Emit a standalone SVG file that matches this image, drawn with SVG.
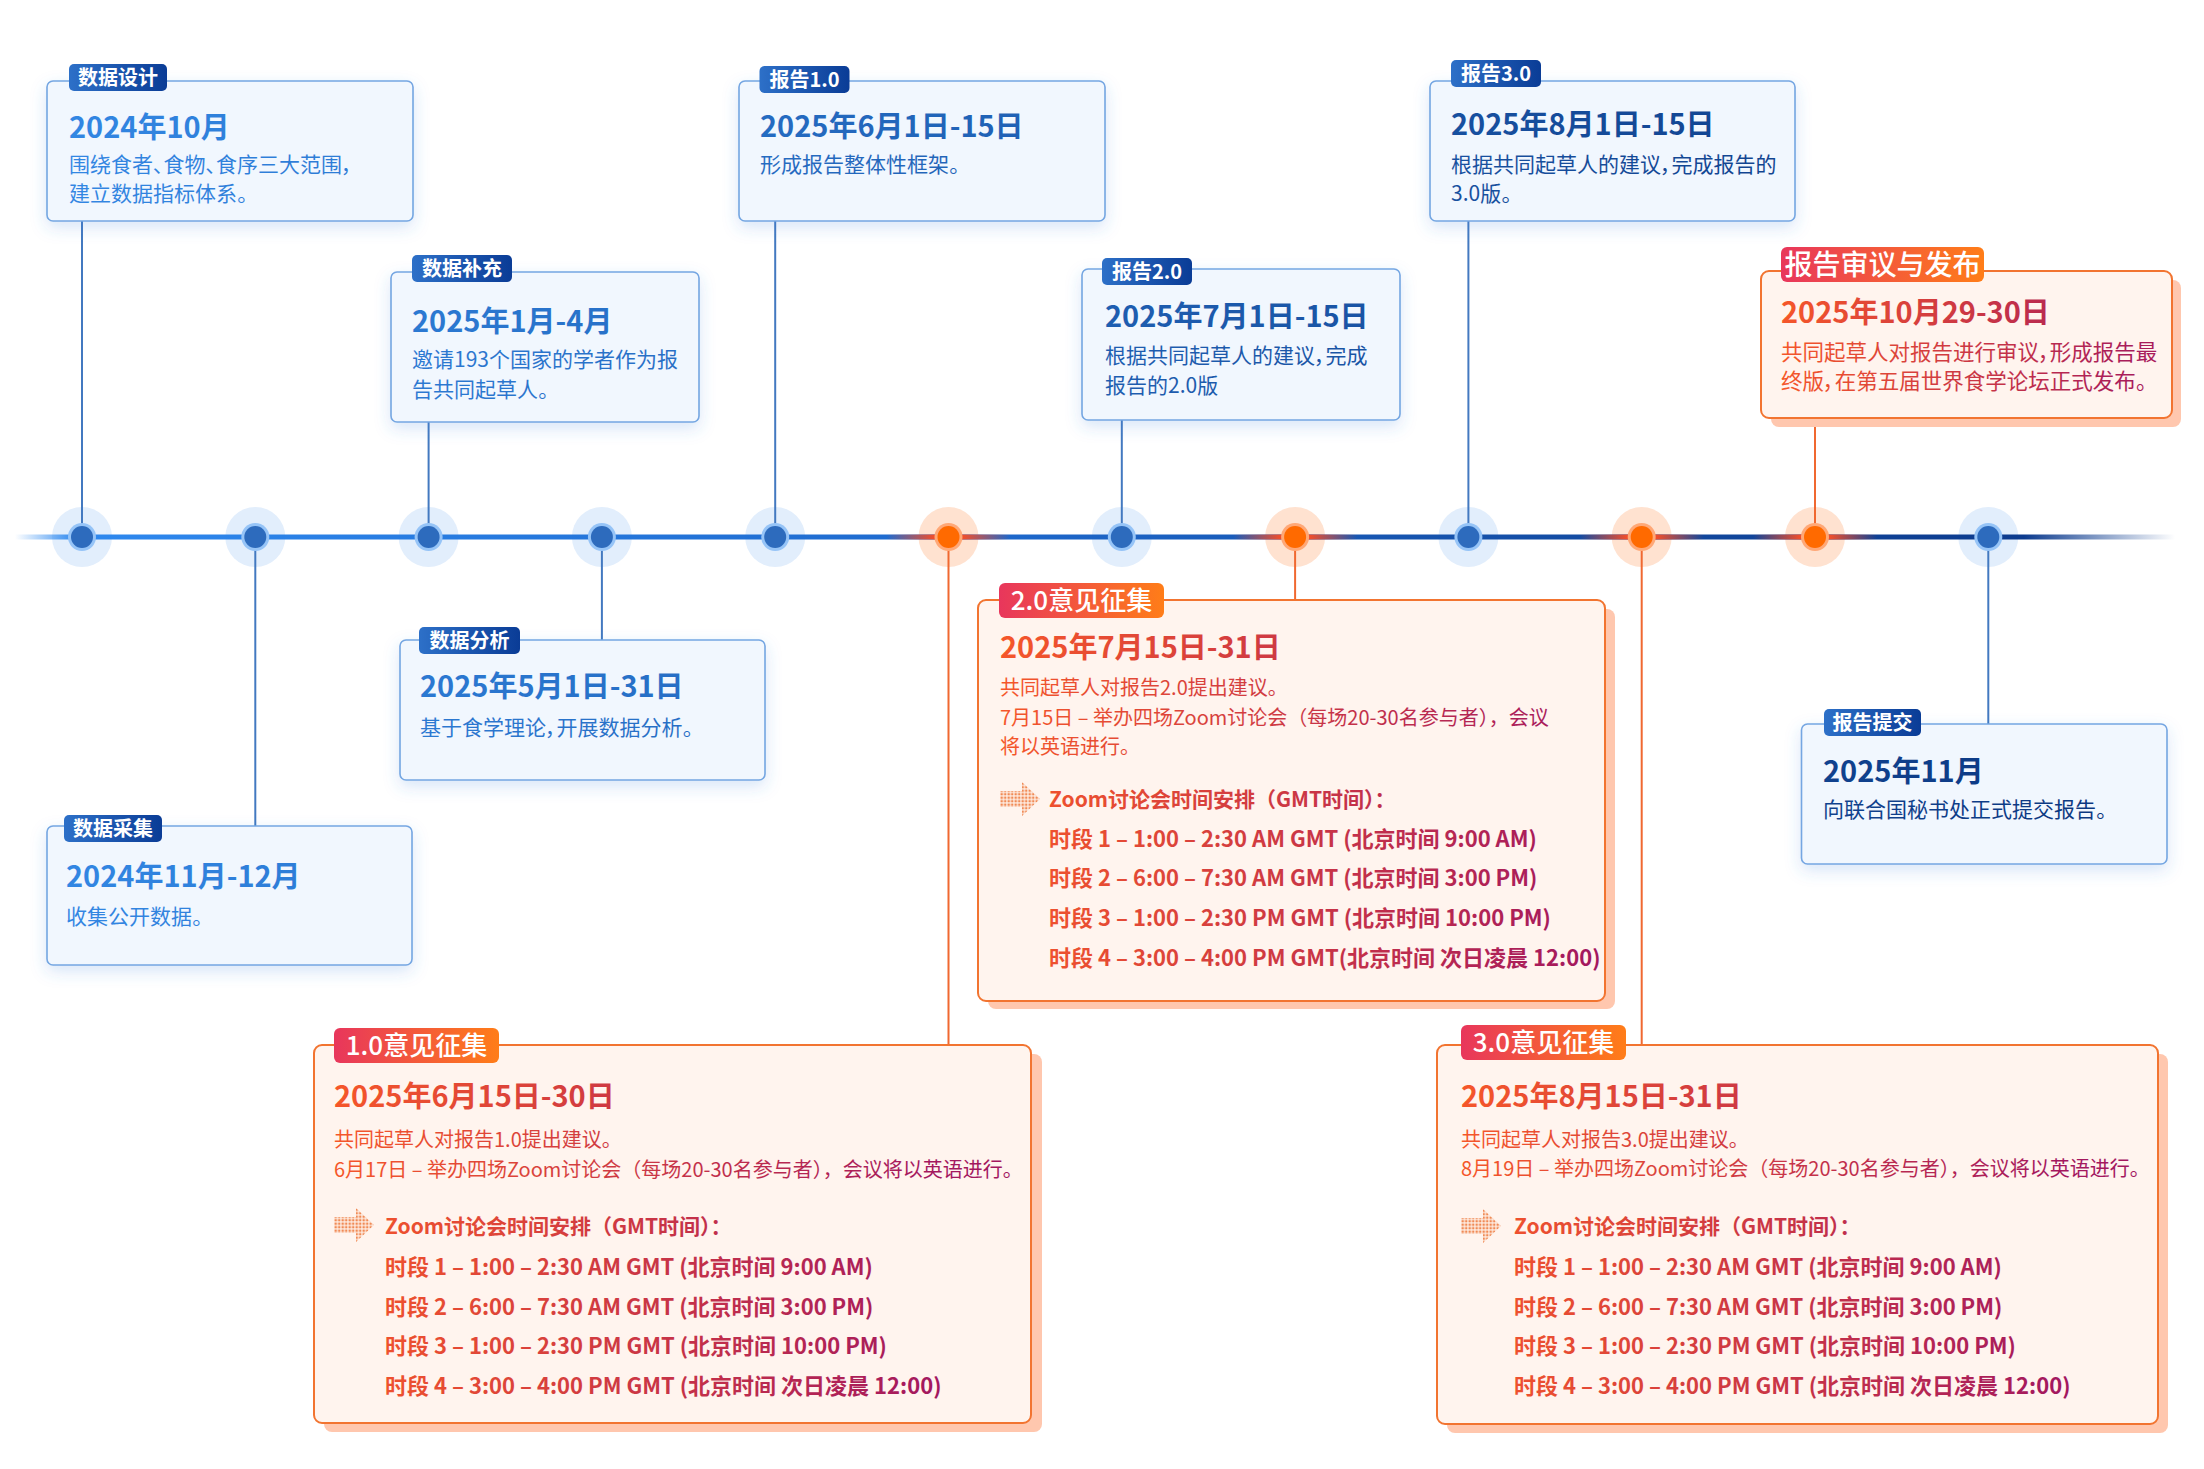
<svg xmlns="http://www.w3.org/2000/svg" width="2204" height="1469" viewBox="0 0 2204 1469">
<defs>
<style>
text{font-family:"Noto Sans CJK SC","Noto Sans",sans-serif;}
.bt{font-size:29px;font-weight:700;fill:url(#gBlueText);}
.bd{font-size:21px;font-weight:400;fill:url(#gBlueText);font-feature-settings:"palt";}
.tg{font-size:20px;font-weight:700;fill:#ffffff;text-anchor:middle;}
.otg{font-size:26px;font-weight:500;fill:#ffffff;text-anchor:middle;}
.ot{font-size:29px;font-weight:700;}
.od{font-size:20px;font-weight:400;}
.odp{font-size:21.5px;font-weight:400;font-feature-settings:"palt";}
.oh{font-size:21px;font-weight:700;}
.os{font-size:22px;font-weight:700;}
.bbox{fill:#F1F7FE;stroke:#74A6E2;stroke-width:1.6;}
.obox{fill:#FFF4EE;stroke:#F27430;stroke-width:2;}
.osh{fill:#FFC7AE;}
.btag{fill:url(#gTagBlue);}
.otag{fill:url(#gTagOrange);}
.cb{stroke:#4379C0;stroke-width:2;fill:none;}
.co{stroke:#F06830;stroke-width:2;fill:none;}
.hb{fill:#E2EEFC;}
.ho{fill:#FFE2D0;}
.rb{fill:#96C4F7;}
.ro{fill:#FFA877;}
.kb{fill:#2D6BBD;}
.ko{fill:#FF6A00;}
</style>
<linearGradient id="gBlueText" gradientUnits="userSpaceOnUse" x1="0" y1="0" x2="2204" y2="0">
<stop offset="0" stop-color="#3389E6"/><stop offset="1" stop-color="#09337C"/>
</linearGradient>
<linearGradient id="gTagBlue" x1="0" y1="0" x2="1" y2="0">
<stop offset="0" stop-color="#2D70C8"/><stop offset="1" stop-color="#0A3C96"/>
</linearGradient>
<linearGradient id="gTagOrange" x1="0" y1="0" x2="1" y2="0">
<stop offset="0" stop-color="#E8365C"/><stop offset="1" stop-color="#FF7D18"/>
</linearGradient>
<linearGradient id="gLine" gradientUnits="userSpaceOnUse" x1="15" y1="0" x2="2175" y2="0">
<stop offset="0" stop-color="#3A92F4" stop-opacity="0"/>
<stop offset="0.028" stop-color="#2E88EE"/>
<stop offset="0.45" stop-color="#1D68CC"/>
<stop offset="0.75" stop-color="#12499F"/>
<stop offset="0.93" stop-color="#0C3B8E"/>
<stop offset="1" stop-color="#0C3B8E" stop-opacity="0"/>
</linearGradient>
<linearGradient id="gSegO" x1="0" y1="0" x2="1" y2="0">
<stop offset="0" stop-color="#F04E2C" stop-opacity="0"/>
<stop offset="0.38" stop-color="#F04E2C"/>
<stop offset="0.62" stop-color="#F04E2C"/>
<stop offset="1" stop-color="#F04E2C" stop-opacity="0"/>
</linearGradient>
<linearGradient id="gOA" gradientUnits="userSpaceOnUse" x1="334" y1="0" x2="930" y2="0">
<stop offset="0" stop-color="#F5562A"/><stop offset="1" stop-color="#A3185E"/>
</linearGradient>
<linearGradient id="gOB" gradientUnits="userSpaceOnUse" x1="1000" y1="0" x2="1585" y2="0">
<stop offset="0" stop-color="#F5562A"/><stop offset="1" stop-color="#A3185E"/>
</linearGradient>
<linearGradient id="gOC" gradientUnits="userSpaceOnUse" x1="1461" y1="0" x2="2055" y2="0">
<stop offset="0" stop-color="#F5562A"/><stop offset="1" stop-color="#A3185E"/>
</linearGradient>
<linearGradient id="gOD" gradientUnits="userSpaceOnUse" x1="1781" y1="0" x2="2130" y2="0">
<stop offset="0" stop-color="#F5562A"/><stop offset="1" stop-color="#A81C5A"/>
</linearGradient>
<pattern id="pDots" width="3.5" height="3.5" patternUnits="userSpaceOnUse">
<rect x="0.5" y="0.5" width="2.4" height="2.4" fill="#F08A55"/>
</pattern>
<symbol id="arrowIcon" viewBox="0 0 40 34" width="40" height="34">
<path d="M0,9 H22 V0 L40,17 L22,34 V25 H0 Z" fill="url(#pDots)"/>
</symbol>
<filter id="bshadow" x="-10%" y="-15%" width="120%" height="140%">
<feGaussianBlur in="SourceAlpha" stdDeviation="8"/>
<feOffset dy="6" result="b"/>
<feFlood flood-color="#3C82DC" flood-opacity="0.2"/>
<feComposite in2="b" operator="in"/>
<feMerge><feMergeNode/><feMergeNode in="SourceGraphic"/></feMerge>
</filter>
</defs>

<rect x="0" y="0" width="2204" height="1469" fill="#ffffff"/>

<g id="timeline-halos">
<circle class="hb" cx="82" cy="537" r="30"/>
<circle class="hb" cx="255.3" cy="537" r="30"/>
<circle class="hb" cx="428.6" cy="537" r="30"/>
<circle class="hb" cx="601.9" cy="537" r="30"/>
<circle class="hb" cx="775.2" cy="537" r="30"/>
<circle class="ho" cx="948.5" cy="537" r="30"/>
<circle class="hb" cx="1121.8" cy="537" r="30"/>
<circle class="ho" cx="1295.1" cy="537" r="30"/>
<circle class="hb" cx="1468.4" cy="537" r="30"/>
<circle class="ho" cx="1641.7" cy="537" r="30"/>
<circle class="ho" cx="1815" cy="537" r="30"/>
<circle class="hb" cx="1988.3" cy="537" r="30"/>
</g>

<g id="timeline-line">
<rect x="15" y="534.5" width="2160" height="5" fill="url(#gLine)"/>
<rect x="886.5" y="534.5" width="124" height="5" fill="url(#gSegO)"/>
<rect x="1233.1" y="534.5" width="124" height="5" fill="url(#gSegO)"/>
<rect x="1579.7" y="534.5" width="124" height="5" fill="url(#gSegO)"/>
<rect x="1753" y="534.5" width="124" height="5" fill="url(#gSegO)"/>
</g>

<g id="connectors">
<line class="cb" x1="82" y1="221" x2="82" y2="537"/>
<line class="cb" x1="255.3" y1="537" x2="255.3" y2="826"/>
<line class="cb" x1="428.6" y1="422" x2="428.6" y2="537"/>
<line class="cb" x1="601.9" y1="537" x2="601.9" y2="640"/>
<line class="cb" x1="775.2" y1="221" x2="775.2" y2="537"/>
<line class="co" x1="948.5" y1="537" x2="948.5" y2="1045"/>
<line class="cb" x1="1121.8" y1="420" x2="1121.8" y2="537"/>
<line class="co" x1="1295.1" y1="537" x2="1295.1" y2="600"/>
<line class="cb" x1="1468.4" y1="221" x2="1468.4" y2="537"/>
<line class="co" x1="1641.7" y1="537" x2="1641.7" y2="1045"/>
<line class="co" x1="1815" y1="418" x2="1815" y2="537"/>
<line class="cb" x1="1988.3" y1="537" x2="1988.3" y2="724"/>
</g>

<g id="timeline-dots">
<circle class="rb" cx="82" cy="537" r="14"/><circle class="kb" cx="82" cy="537" r="11"/>
<circle class="rb" cx="255.3" cy="537" r="14"/><circle class="kb" cx="255.3" cy="537" r="11"/>
<circle class="rb" cx="428.6" cy="537" r="14"/><circle class="kb" cx="428.6" cy="537" r="11"/>
<circle class="rb" cx="601.9" cy="537" r="14"/><circle class="kb" cx="601.9" cy="537" r="11"/>
<circle class="rb" cx="775.2" cy="537" r="14"/><circle class="kb" cx="775.2" cy="537" r="11"/>
<circle class="ro" cx="948.5" cy="537" r="14"/><circle class="ko" cx="948.5" cy="537" r="11"/>
<circle class="rb" cx="1121.8" cy="537" r="14"/><circle class="kb" cx="1121.8" cy="537" r="11"/>
<circle class="ro" cx="1295.1" cy="537" r="14"/><circle class="ko" cx="1295.1" cy="537" r="11"/>
<circle class="rb" cx="1468.4" cy="537" r="14"/><circle class="kb" cx="1468.4" cy="537" r="11"/>
<circle class="ro" cx="1641.7" cy="537" r="14"/><circle class="ko" cx="1641.7" cy="537" r="11"/>
<circle class="ro" cx="1815" cy="537" r="14"/><circle class="ko" cx="1815" cy="537" r="11"/>
<circle class="rb" cx="1988.3" cy="537" r="14"/><circle class="kb" cx="1988.3" cy="537" r="11"/>
</g>

<g id="node-data-design">
<rect class="bbox" x="47" y="81" width="366" height="140" rx="6" filter="url(#bshadow)"/>
<rect class="btag" x="69" y="64" width="98" height="27" rx="5"/>
<text class="tg" x="118" y="85">数据设计</text>
<text class="bt" x="69" y="138">2024年10月</text>
<text class="bd" x="69" y="172">围绕食者、食物、食序三大范围，</text>
<text class="bd" x="69" y="201">建立数据指标体系。</text>
</g>

<g id="node-data-collect">
<rect class="bbox" x="47" y="826" width="365" height="139" rx="6" filter="url(#bshadow)"/>
<rect class="btag" x="64" y="815" width="98" height="27" rx="5"/>
<text class="tg" x="113" y="836">数据采集</text>
<text class="bt" x="66" y="887">2024年11月-12月</text>
<text class="bd" x="66" y="924">收集公开数据。</text>
</g>

<g id="node-data-supplement">
<rect class="bbox" x="391" y="272" width="308" height="150" rx="6" filter="url(#bshadow)"/>
<rect class="btag" x="412" y="255" width="100" height="27" rx="5"/>
<text class="tg" x="462" y="276">数据补充</text>
<text class="bt" x="412" y="332">2025年1月-4月</text>
<text class="bd" x="412" y="367">邀请193个国家的学者作为报</text>
<text class="bd" x="412" y="397">告共同起草人。</text>
</g>

<g id="node-data-analysis">
<rect class="bbox" x="400" y="640" width="365" height="140" rx="6" filter="url(#bshadow)"/>
<rect class="btag" x="419" y="627" width="101" height="27" rx="5"/>
<text class="tg" x="469.5" y="648">数据分析</text>
<text class="bt" x="420" y="697">2025年5月1日-31日</text>
<text class="bd" x="420" y="735">基于食学理论，开展数据分析。</text>
</g>

<g id="node-report-1">
<rect class="bbox" x="739" y="81" width="366" height="140" rx="6" filter="url(#bshadow)"/>
<rect class="btag" x="759.5" y="66" width="90" height="27" rx="5"/>
<text class="tg" x="804.5" y="87">报告1.0</text>
<text class="bt" x="760" y="137">2025年6月1日-15日</text>
<text class="bd" x="760" y="172">形成报告整体性框架。</text>
</g>

<g id="node-report-2">
<rect class="bbox" x="1082" y="269" width="318" height="151" rx="6" filter="url(#bshadow)"/>
<rect class="btag" x="1102" y="258" width="90" height="27" rx="5"/>
<text class="tg" x="1147" y="279">报告2.0</text>
<text class="bt" x="1105" y="327">2025年7月1日-15日</text>
<text class="bd" x="1105" y="363">根据共同起草人的建议，完成</text>
<text class="bd" x="1105" y="393">报告的2.0版</text>
</g>

<g id="node-report-3">
<rect class="bbox" x="1430" y="81" width="365" height="140" rx="6" filter="url(#bshadow)"/>
<rect class="btag" x="1451" y="60" width="90" height="27" rx="5"/>
<text class="tg" x="1496" y="81">报告3.0</text>
<text class="bt" x="1451" y="135">2025年8月1日-15日</text>
<text class="bd" x="1451" y="172">根据共同起草人的建议，完成报告的</text>
<text class="bd" x="1451" y="201">3.0版。</text>
</g>

<g id="node-report-submit">
<rect class="bbox" x="1801.5" y="724" width="365.5" height="140" rx="6" filter="url(#bshadow)"/>
<rect class="btag" x="1824" y="709" width="97" height="27" rx="5"/>
<text class="tg" x="1872.5" y="730">报告提交</text>
<text class="bt" x="1823" y="782">2025年11月</text>
<text class="bd" x="1823" y="817">向联合国秘书处正式提交报告。</text>
</g>

<g id="node-feedback-1">
<rect class="osh" x="324" y="1054" width="718" height="378" rx="8"/>
<rect class="obox" x="314" y="1045" width="717" height="378" rx="8"/>
<rect class="otag" x="334" y="1028" width="165" height="35" rx="6"/>
<text class="otg" x="416.5" y="1055">1.0意见征集</text>
<g fill="url(#gOA)">
<text class="ot" x="334" y="1107">2025年6月15日-30日</text>
<text class="od" x="334" y="1147">共同起草人对报告1.0提出建议。</text>
<text class="od" x="334" y="1177">6月17日 – 举办四场Zoom讨论会（每场20-30名参与者），会议将以英语进行。</text>
<text class="oh" x="385" y="1234">Zoom讨论会时间安排（GMT时间）：</text>
<text class="os" x="385" y="1275">时段 1 – 1:00 – 2:30 AM GMT (北京时间 9:00 AM)</text>
<text class="os" x="385" y="1315">时段 2 – 6:00 – 7:30 AM GMT (北京时间 3:00 PM)</text>
<text class="os" x="385" y="1354">时段 3 – 1:00 – 2:30 PM GMT (北京时间 10:00 PM)</text>
<text class="os" x="385" y="1394">时段 4 – 3:00 – 4:00 PM GMT (北京时间 次日凌晨 12:00)</text>
</g>
<use href="#arrowIcon" x="334" y="1208" width="40" height="34"/>
</g>

<g id="node-feedback-2">
<rect class="osh" x="988" y="609" width="627" height="400" rx="8"/>
<rect class="obox" x="978" y="600" width="627" height="401" rx="8"/>
<rect class="otag" x="999" y="583" width="165" height="35" rx="6"/>
<text class="otg" x="1081.5" y="610">2.0意见征集</text>
<g fill="url(#gOB)">
<text class="ot" x="1000" y="658">2025年7月15日-31日</text>
<text class="od" x="1000" y="695">共同起草人对报告2.0提出建议。</text>
<text class="od" x="1000" y="725">7月15日 – 举办四场Zoom讨论会（每场20-30名参与者），会议</text>
<text class="od" x="1000" y="754">将以英语进行。</text>
<text class="oh" x="1049" y="807">Zoom讨论会时间安排（GMT时间）：</text>
<text class="os" x="1049" y="847">时段 1 – 1:00 – 2:30 AM GMT (北京时间 9:00 AM)</text>
<text class="os" x="1049" y="886">时段 2 – 6:00 – 7:30 AM GMT (北京时间 3:00 PM)</text>
<text class="os" x="1049" y="926">时段 3 – 1:00 – 2:30 PM GMT (北京时间 10:00 PM)</text>
<text class="os" x="1049" y="966">时段 4 – 3:00 – 4:00 PM GMT(北京时间 次日凌晨 12:00)</text>
</g>
<use href="#arrowIcon" x="1000" y="782" width="40" height="34"/>
</g>

<g id="node-feedback-3">
<rect class="osh" x="1447" y="1054" width="721" height="379" rx="8"/>
<rect class="obox" x="1437" y="1045" width="721" height="379" rx="8"/>
<rect class="otag" x="1461" y="1025" width="165" height="35" rx="6"/>
<text class="otg" x="1543.5" y="1052">3.0意见征集</text>
<g fill="url(#gOC)">
<text class="ot" x="1461" y="1107">2025年8月15日-31日</text>
<text class="od" x="1461" y="1147">共同起草人对报告3.0提出建议。</text>
<text class="od" x="1461" y="1176">8月19日 – 举办四场Zoom讨论会（每场20-30名参与者），会议将以英语进行。</text>
<text class="oh" x="1514" y="1234">Zoom讨论会时间安排（GMT时间）：</text>
<text class="os" x="1514" y="1275">时段 1 – 1:00 – 2:30 AM GMT (北京时间 9:00 AM)</text>
<text class="os" x="1514" y="1315">时段 2 – 6:00 – 7:30 AM GMT (北京时间 3:00 PM)</text>
<text class="os" x="1514" y="1354">时段 3 – 1:00 – 2:30 PM GMT (北京时间 10:00 PM)</text>
<text class="os" x="1514" y="1394">时段 4 – 3:00 – 4:00 PM GMT (北京时间 次日凌晨 12:00)</text>
</g>
<use href="#arrowIcon" x="1461" y="1209" width="40" height="34"/>
</g>

<g id="node-review-release">
<rect class="osh" x="1771" y="280" width="410" height="147" rx="8"/>
<rect class="obox" x="1761" y="271" width="411" height="147" rx="8"/>
<rect class="otag" x="1781" y="247" width="203" height="35" rx="6"/>
<text class="otg" x="1882.5" y="275" style="font-size:28px">报告审议与发布</text>
<g fill="url(#gOD)">
<text class="ot" x="1781" y="323">2025年10月29-30日</text>
<text class="odp" x="1781" y="360">共同起草人对报告进行审议，形成报告最</text>
<text class="odp" x="1781" y="389">终版，在第五届世界食学论坛正式发布。</text>
</g>
</g>
</svg>
